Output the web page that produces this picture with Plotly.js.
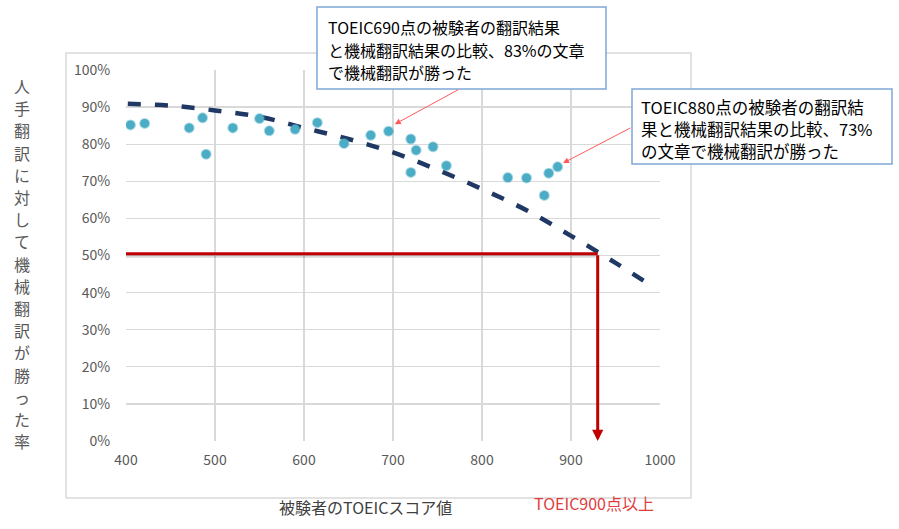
<!DOCTYPE html>
<html>
<head>
<meta charset="utf-8">
<script src="https://cdn.plot.ly/plotly-3.0.1.min.js"></script>
<style>
	html, body { margin: 0; padding: 0; background: #ffffff; }
	#chart { width: 899px; height: 529px; }
</style>
</head>
<body>
<div id="chart"></div>
<script>
// scores of each examinee and the rate (%) at which machine translation won
const scores = [405, 421, 471, 486, 490, 520, 550, 561, 590, 615, 645, 675, 695, 720, 726, 720, 745, 760, 829, 850, 870, 875, 885];
const winRates = [85.2, 85.6, 84.4, 87.1, 77.3, 84.4, 86.9, 83.6, 84.0, 85.8, 80.2, 82.4, 83.5, 81.4, 78.4, 72.4, 79.3, 74.2, 71.0, 70.9, 66.2, 72.2, 73.9];

// trend line
const trendScores = [402, 450, 500, 550, 600, 650, 700, 750, 800, 850, 900, 950, 990];
const trendRates = [90.9, 90.4, 89.1, 87.4, 84.4, 81.4, 77.8, 73.1, 67.9, 62.2, 55.3, 48.0, 41.9];

// point where the trend crosses 50%
const crossScore = [930];
const crossRate = [50.5];

const yTitleChars = ['人', '手', '翻', '訳', 'に', '対', 'し', 'て', '機', '械', '翻', '訳', 'が', '勝', 'っ', 'た', '率'];

const note690 = ['TOEIC690点の被験者の翻訳結果', 'と機械翻訳結果の比較、83%の文章', 'で機械翻訳が勝った'];
const note880 = ['TOEIC880点の被験者の翻訳結', '果と機械翻訳結果の比較、73%', 'の文章で機械翻訳が勝った'];

const font = 'Noto Sans CJK JP, Noto Sans, sans-serif';
const red = '#C00000';

// pixel -> paper helpers (plot area is 126..660 x 70..441)
const px = (v) => (v - 126) / 534;
const py = (v) => (441 - v) / 371;

const data = [
	{
		x: trendScores,
		y: trendRates,
		type: 'scatter',
		mode: 'lines',
		line: { color: '#1F3864', width: 4.5, dash: '13px,14px', shape: 'spline' },
		hoverinfo: 'skip',
		showlegend: false,
	},
	{
		x: scores,
		y: winRates,
		type: 'scatter',
		mode: 'markers',
		marker: {
			color: '#4BACC6',
			size: 9,
			line: { color: 'rgba(75,172,198,0.45)', width: 2 },
		},
		showlegend: false,
	},
];

const textAt = (text, x, y, size, color, anchor) => ({
	text: text,
	xref: 'paper', yref: 'paper',
	x: px(x), y: py(y),
	xanchor: anchor, yanchor: 'middle',
	showarrow: false,
	font: { family: font, size: size, color: color },
});

// vertical y-axis title: one character per line, 22px apart
const yTitle = yTitleChars.map((ch, i) => textAt(ch, 22, 86 + i * 22.2, 16, '#595959', 'center'));

const box690 = note690.map((line, i) => textAt(line, 326, 27 + i * 22.5, 16, '#000000', 'left'));
const box880 = note880.map((line, i) => textAt(line, 639, 107 + i * 22, 16.5, '#000000', 'left'));

const layout = {
	width: 899,
	height: 529,
	margin: { l: 126, r: 239, t: 70, b: 88 },
	paper_bgcolor: '#ffffff',
	plot_bgcolor: '#ffffff',
	font: { family: font, size: 14, color: '#595959' },
	xaxis: {
		range: [400, 1000],
		dtick: 100,
		tick0: 400,
		showgrid: true,
		gridcolor: '#D9D9D9',
		gridwidth: 1.3,
		zeroline: false,
		ticks: 'outside',
		ticklen: 6,
		tickcolor: 'rgba(0,0,0,0)',
		tickfont: { size: 14, color: '#595959' },
		fixedrange: true,
	},
	yaxis: {
		range: [0, 100],
		dtick: 10,
		ticksuffix: '%',
		showgrid: true,
		gridcolor: '#D9D9D9',
		gridwidth: 1.3,
		zeroline: false,
		ticks: 'outside',
		ticklen: 12,
		tickcolor: 'rgba(0,0,0,0)',
		tickfont: { size: 14, color: '#595959' },
		fixedrange: true,
	},
	shapes: [
		// chart area border
		{
			type: 'rect', xref: 'paper', yref: 'paper',
			x0: px(66), x1: px(691), y0: py(498), y1: py(53),
			line: { color: '#D9D9D9', width: 1.5 },
			layer: 'below',
		},
		// shadow under the 50% line
		{
			type: 'line', xref: 'x', yref: 'y',
			x0: 400, x1: crossScore[0], y0: crossRate[0] - 0.7, y1: crossRate[0] - 0.7,
			line: { color: 'rgba(0,0,0,0.15)', width: 3 },
		},
		{
			type: 'line', xref: 'x', yref: 'y',
			x0: 400, x1: crossScore[0], y0: crossRate[0], y1: crossRate[0],
			line: { color: red, width: 3 },
		},
		// callout boxes
		{
			type: 'rect', xref: 'paper', yref: 'paper',
			x0: px(317), x1: px(606), y0: py(89), y1: py(7),
			fillcolor: '#ffffff', line: { color: '#7FA6D6', width: 1.5 },
			layer: 'above',
		},
		{
			type: 'rect', xref: 'paper', yref: 'paper',
			x0: px(632), x1: px(892), y0: py(164), y1: py(89),
			fillcolor: '#ffffff', line: { color: '#7FA6D6', width: 1.5 },
			layer: 'above',
		},
	],
	annotations: [
		// vertical red arrow down to the x axis
		{
			x: crossScore[0], y: 0, xref: 'x', yref: 'y',
			ax: crossScore[0], ay: crossRate[0], axref: 'x', ayref: 'y',
			showarrow: true, arrowhead: 2, arrowsize: 0.75, arrowwidth: 3,
			arrowcolor: red, text: '', standoff: 0,
		},
		...yTitle,
		textAt('被験者のTOEICスコア値', 365, 507, 16, '#404040', 'center'),
		textAt('TOEIC900点以上', 594, 503, 16, '#E03C3C', 'center'),
		...box690,
		...box880,
		// thin red pointers from the boxes
		{
			x: 702, y: 85.4, xref: 'x', yref: 'y',
			ax: 775, ay: 94.9, axref: 'x', ayref: 'y',
			showarrow: true, arrowhead: 2, arrowsize: 1.2, arrowwidth: 1,
			arrowcolor: '#FF5A5A', text: '', standoff: 0,
		},
		{
			x: 891, y: 74.9, xref: 'x', yref: 'y',
			ax: 968.5, ay: 84.6, axref: 'x', ayref: 'y',
			showarrow: true, arrowhead: 2, arrowsize: 1.2, arrowwidth: 1,
			arrowcolor: '#FF5A5A', text: '', standoff: 0,
		},
	],
};

Plotly.newPlot('chart', data, layout, { displayModeBar: false, staticPlot: true });
</script>
</body>
</html>
